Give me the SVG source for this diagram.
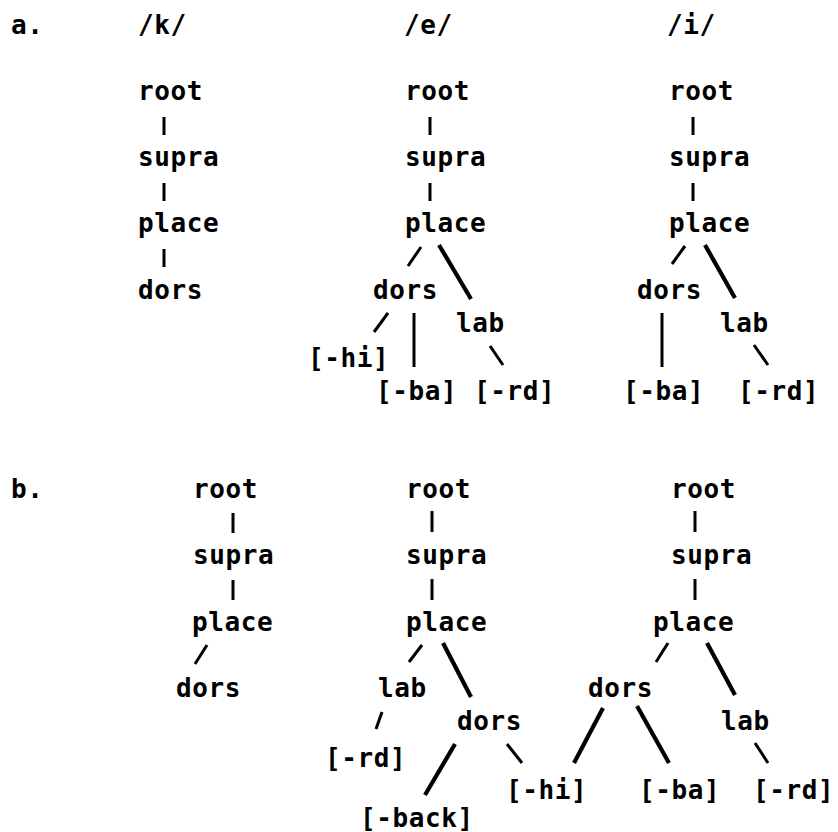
<svg xmlns="http://www.w3.org/2000/svg" width="838" height="832" viewBox="0 0 838 832">
<style>
text{font-family:"DejaVu Sans Mono","Liberation Mono",monospace;font-size:26px;font-weight:bold;letter-spacing:0.6px;fill:#000}
.c line{stroke:#000;stroke-width:3;stroke-linecap:butt}
.c line.t{stroke-width:4.2}
</style>
<rect width="838" height="832" fill="#fff"/>
<g id="labels">
<text x="11" y="34">a.</text>
<text x="138" y="34">/k/</text>
<text x="404" y="34">/e/</text>
<text x="667" y="34">/i/</text>
<text x="11" y="498">b.</text>
</g>
<g id="a-k">
<g id="ak-root"><text x="138" y="100">root</text></g>
<g id="ak-supra"><text x="138" y="166">supra</text></g>
<g id="ak-place"><text x="138" y="232">place</text></g>
<g id="ak-dors"><text x="138" y="299">dors</text></g>
</g>
<g id="a-e">
<g id="ae-root"><text x="405" y="100">root</text></g>
<g id="ae-supra"><text x="405" y="166">supra</text></g>
<g id="ae-place"><text x="405" y="232">place</text></g>
<g id="ae-dors"><text x="373" y="299">dors</text></g>
<g id="ae-lab"><text x="456" y="332">lab</text></g>
<g id="ae-hi"><text x="308" y="367">[-hi]</text></g>
<g id="ae-ba"><text x="376" y="400">[-ba]</text></g>
<g id="ae-rd"><text x="474" y="400">[-rd]</text></g>
</g>
<g id="a-i">
<g id="ai-root"><text x="669" y="100">root</text></g>
<g id="ai-supra"><text x="669" y="166">supra</text></g>
<g id="ai-place"><text x="669" y="232">place</text></g>
<g id="ai-dors"><text x="637" y="299">dors</text></g>
<g id="ai-lab"><text x="720" y="332">lab</text></g>
<g id="ai-ba"><text x="623" y="400">[-ba]</text></g>
<g id="ai-rd"><text x="738" y="400">[-rd]</text></g>
</g>
<g id="b-1">
<g id="b1-root"><text x="193" y="498">root</text></g>
<g id="b1-supra"><text x="193" y="564">supra</text></g>
<g id="b1-place"><text x="192" y="631">place</text></g>
<g id="b1-dors"><text x="176" y="697">dors</text></g>
</g>
<g id="b-2">
<g id="b2-root"><text x="406" y="498">root</text></g>
<g id="b2-supra"><text x="406" y="564">supra</text></g>
<g id="b2-place"><text x="406" y="631">place</text></g>
<g id="b2-lab"><text x="378" y="697">lab</text></g>
<g id="b2-dors"><text x="457" y="730">dors</text></g>
<g id="b2-rd"><text x="325" y="767">[-rd]</text></g>
<g id="b2-hi"><text x="506" y="799">[-hi]</text></g>
<g id="b2-back"><text x="360" y="827">[-back]</text></g>
</g>
<g id="b-3">
<g id="b3-root"><text x="671" y="498">root</text></g>
<g id="b3-supra"><text x="671" y="564">supra</text></g>
<g id="b3-place"><text x="653" y="631">place</text></g>
<g id="b3-dors"><text x="588" y="697">dors</text></g>
<g id="b3-lab"><text x="721" y="730">lab</text></g>
<g id="b3-ba"><text x="639" y="799">[-ba]</text></g>
<g id="b3-rd"><text x="753" y="799">[-rd]</text></g>
</g>
<g id="connectors" class="c">
<line x1="164" y1="117" x2="164" y2="135"/>
<line x1="164" y1="183" x2="164" y2="201"/>
<line x1="164" y1="249" x2="164" y2="267"/>
<line x1="430" y1="117" x2="430" y2="135"/>
<line x1="430" y1="183" x2="430" y2="201"/>
<line x1="421" y1="247" x2="408" y2="266"/>
<line class="t" x1="439" y1="245" x2="471" y2="299"/>
<line x1="388" y1="313" x2="374" y2="332"/>
<line x1="414" y1="313" x2="414" y2="367"/>
<line x1="490" y1="346" x2="503" y2="365"/>
<line x1="693" y1="117" x2="693" y2="135"/>
<line x1="693" y1="183" x2="693" y2="201"/>
<line x1="685" y1="246" x2="672" y2="264"/>
<line class="t" x1="705" y1="245" x2="735" y2="298"/>
<line x1="662" y1="313" x2="662" y2="367"/>
<line x1="754" y1="345" x2="768" y2="365"/>
<line x1="233" y1="513" x2="233" y2="533"/>
<line x1="233" y1="580" x2="233" y2="600"/>
<line x1="207" y1="645" x2="195" y2="664"/>
<line x1="432" y1="511" x2="432" y2="532"/>
<line x1="432" y1="579" x2="432" y2="600"/>
<line x1="422" y1="645" x2="409" y2="662"/>
<line class="t" x1="443" y1="643" x2="471" y2="697"/>
<line x1="382" y1="712" x2="376" y2="729"/>
<line class="t" x1="455" y1="744" x2="425" y2="795"/>
<line x1="507" y1="744" x2="522" y2="763"/>
<line x1="695" y1="511" x2="695" y2="532"/>
<line x1="695" y1="579" x2="695" y2="600"/>
<line x1="668" y1="643" x2="656" y2="662"/>
<line class="t" x1="707" y1="643" x2="735" y2="695"/>
<line class="t" x1="603" y1="708" x2="574" y2="763"/>
<line class="t" x1="637" y1="706" x2="669" y2="763"/>
<line x1="755" y1="743" x2="768" y2="763"/>
</g>
</svg>
